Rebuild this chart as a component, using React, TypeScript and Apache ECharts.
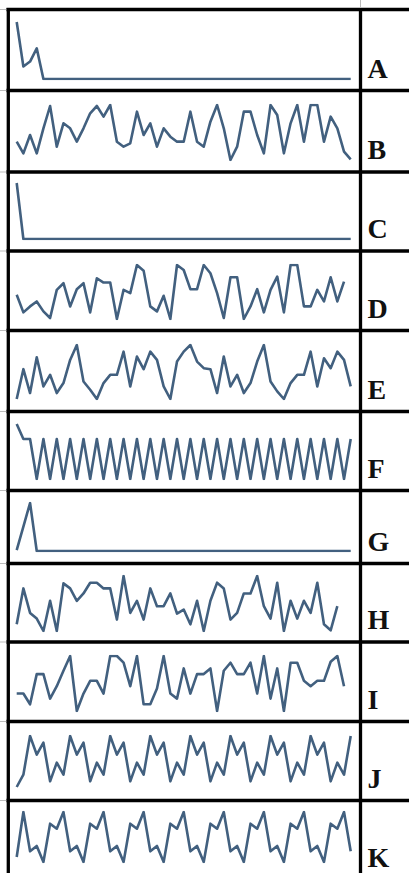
import React, { useEffect, useRef } from "react";
import * as echarts from "echarts";

const LABELS = ["A", "B", "C", "D", "E", "F", "G", "H", "I", "J", "K"];

const A = [173,38,53,93,0,0,0,0,0,0, 0,0,0,0,0,0,0,0,0,0, 0,0,0,0,0,0,0,0,0,0, 0,0,0,0,0,0,0,0,0,0, 0,0,0,0,0,0,0,0,0,0, 0];
const B = [75,40,95,40,115,182,60,130,115,75, 115,160,182,150,185,75,60,70,165,95, 130,60,115,90,75,75,165,75,60,135, 185,115,20,60,165,165,95,40,185,155, 40,130,185,75,185,185,75,150,115,45, 22];
const C = [100,0,0,0,0,0,0,0,0,0, 0,0,0,0,0,0,0,0,0,0, 0,0,0,0,0,0,0,0,0,0, 0,0,0,0,0,0,0,0,0,0, 0,0,0,0,0,0,0,0,0,0, 0];
const D = [95,42,60,75,45,25,110,130,60,112, 130,42,145,132,132,22,110,100,185,168, 60,45,92,22,185,170,112,112,185,160, 100,25,148,148,22,60,112,42,110,150, 42,185,185,60,60,110,75,148,75,135];
const E = [22,112,40,148,60,95,40,70,140,185, 75,50,22,70,95,95,165,60,150,112, 165,140,60,22,135,165,185,135,115,112, 40,150,60,95,40,70,135,185,75,45, 22,70,95,95,165,60,145,115,165,140, 60];
const F = [55,40,40,0,40,0,40,0,40,0, 40,0,40,0,40,0,40,0,40,0, 40,0,40,0,40,0,40,0,40,0, 40,0,40,0,40,0,40,0,40,0, 40,0,40,0,40,0,40,0,40,0, 40];
const G = [2,51,100,0,0,0,0,0,0,0, 0,0,0,0,0,0,0,0,0,0, 0,0,0,0,0,0,0,0,0,0, 0,0,0,0,0,0,0,0,0,0, 0,0,0,0,0,0,0,0,0,0, 0];
const H = [38,145,72,55,18,108,18,160,145,108, 130,162,162,145,145,52,182,72,108,52, 145,92,92,130,70,82,38,108,18,108, 162,145,52,72,130,130,182,92,55,162, 18,108,55,108,72,162,38,20,92];
const I = [70,70,38,128,128,55,92,138,182,18, 70,108,108,70,182,182,162,92,182,38, 38,85,182,70,55,145,70,128,128,145, 18,138,162,128,128,162,70,182,55,145, 18,162,162,108,92,108,108,165,182,92];
const J = [5,42,
  158,102,138,22,78,42,
  158,102,138,22,78,42,
  158,102,138,22,78,42,
  158,102,138,22,78,42,
  158,102,138,22,78,42,
  158,102,138,22,78,42,
  158,102,138,22,78,42,
  158,102,138,22,78,42,
  158];
const K = [35,
  170,52,68,20,135,120,
  170,52,68,20,135,120,
  170,52,68,20,135,120,
  170,52,68,20,135,120,
  170,52,68,20,135,120,
  170,52,68,20,135,120,
  170,52,68,20,135,120,
  170,52,68,20,135,120,
  170,52];

const SERIES = [A, B, C, D, E, F, G, H, I, J, K];
const CATEGORIES = A.map((_, i) => String(i + 1));

// layout (pixels)
const PLOT_TOP = [22, 105, 183, 265, 345, 424, 503, 576, 656, 736, 812];
const PLOT_BOTTOM = [79, 160, 239, 319, 399, 479, 551, 631, 711, 787, 862];
const ROW_LINES = [9.5, 90.5, 172, 251, 330.5, 411.5, 490.5, 563.5, 642, 721.5, 800.5];
const ROW_BOTTOM = [90.5, 172, 251, 330.5, 411.5, 490.5, 563.5, 642, 721.5, 800.5, 880];
const LINE_COLOR = "#42607f";

export default function App() {
  const ref = useRef<HTMLDivElement>(null);
  useEffect(() => {
    if (!ref.current) return;
    const chart = echarts.init(ref.current, null, { renderer: "svg" });
    const grids = SERIES.map((_, i) => ({
      left: 16.7,
      width: 334,
      top: PLOT_TOP[i],
      height: PLOT_BOTTOM[i] - PLOT_TOP[i],
      containLabel: false,
    }));
    const xAxes = SERIES.map((_, i) => ({
      type: "category",
      gridIndex: i,
      data: CATEGORIES,
      boundaryGap: false,
      show: false,
    }));
    const yAxes = SERIES.map((_, i) => ({
      type: "value",
      gridIndex: i,
      min: "dataMin",
      max: "dataMax",
      show: false,
      splitLine: { show: false },
    }));
    const series = SERIES.map((d, i) => ({
      type: "line",
      name: LABELS[i],
      xAxisIndex: i,
      yAxisIndex: i,
      data: d,
      symbol: "none",
      silent: true,
      lineStyle: { color: LINE_COLOR, width: 2.6, join: "round" },
    }));
    const graphics: any[] = [];
    ROW_LINES.forEach((y) => {
      graphics.push({
        type: "line",
        shape: { x1: 6.5, y1: y, x2: 409, y2: y },
        style: { stroke: "#000", lineWidth: 3.3 },
      });
      graphics.push({
        type: "line",
        shape: { x1: 0, y1: y, x2: 6.5, y2: y },
        style: { stroke: "#bbb", lineWidth: 1 },
      });
    });
    graphics.push({
      type: "line",
      shape: { x1: 8.3, y1: 8, x2: 8.3, y2: 873 },
      style: { stroke: "#000", lineWidth: 3.3 },
    });
    graphics.push({
      type: "line",
      shape: { x1: 360.5, y1: 8, x2: 360.5, y2: 873 },
      style: { stroke: "#000", lineWidth: 3.3 },
    });
    graphics.push({
      type: "line",
      shape: { x1: 360.5, y1: 0, x2: 360.5, y2: 8 },
      style: { stroke: "#bbb", lineWidth: 1 },
    });
    LABELS.forEach((t, i) => {
      graphics.push({
        type: "text",
        x: 367.5,
        y: ROW_BOTTOM[i] - 22.5,
        style: {
          text: t,
          fill: "#111",
          font: "bold 28px 'Liberation Serif', serif",
          verticalAlign: "middle",
          align: "left",
        },
      });
    });
    chart.setOption({
      animation: false,
      backgroundColor: "#fff",
      grid: grids,
      xAxis: xAxes,
      yAxis: yAxes,
      series,
      graphic: graphics,
    });
    return () => chart.dispose();
  }, []);
  return (
    <div
      ref={ref}
      style={{ position: "absolute", left: 0, top: 0, width: 409, height: 873 }}
    />
  );
}
